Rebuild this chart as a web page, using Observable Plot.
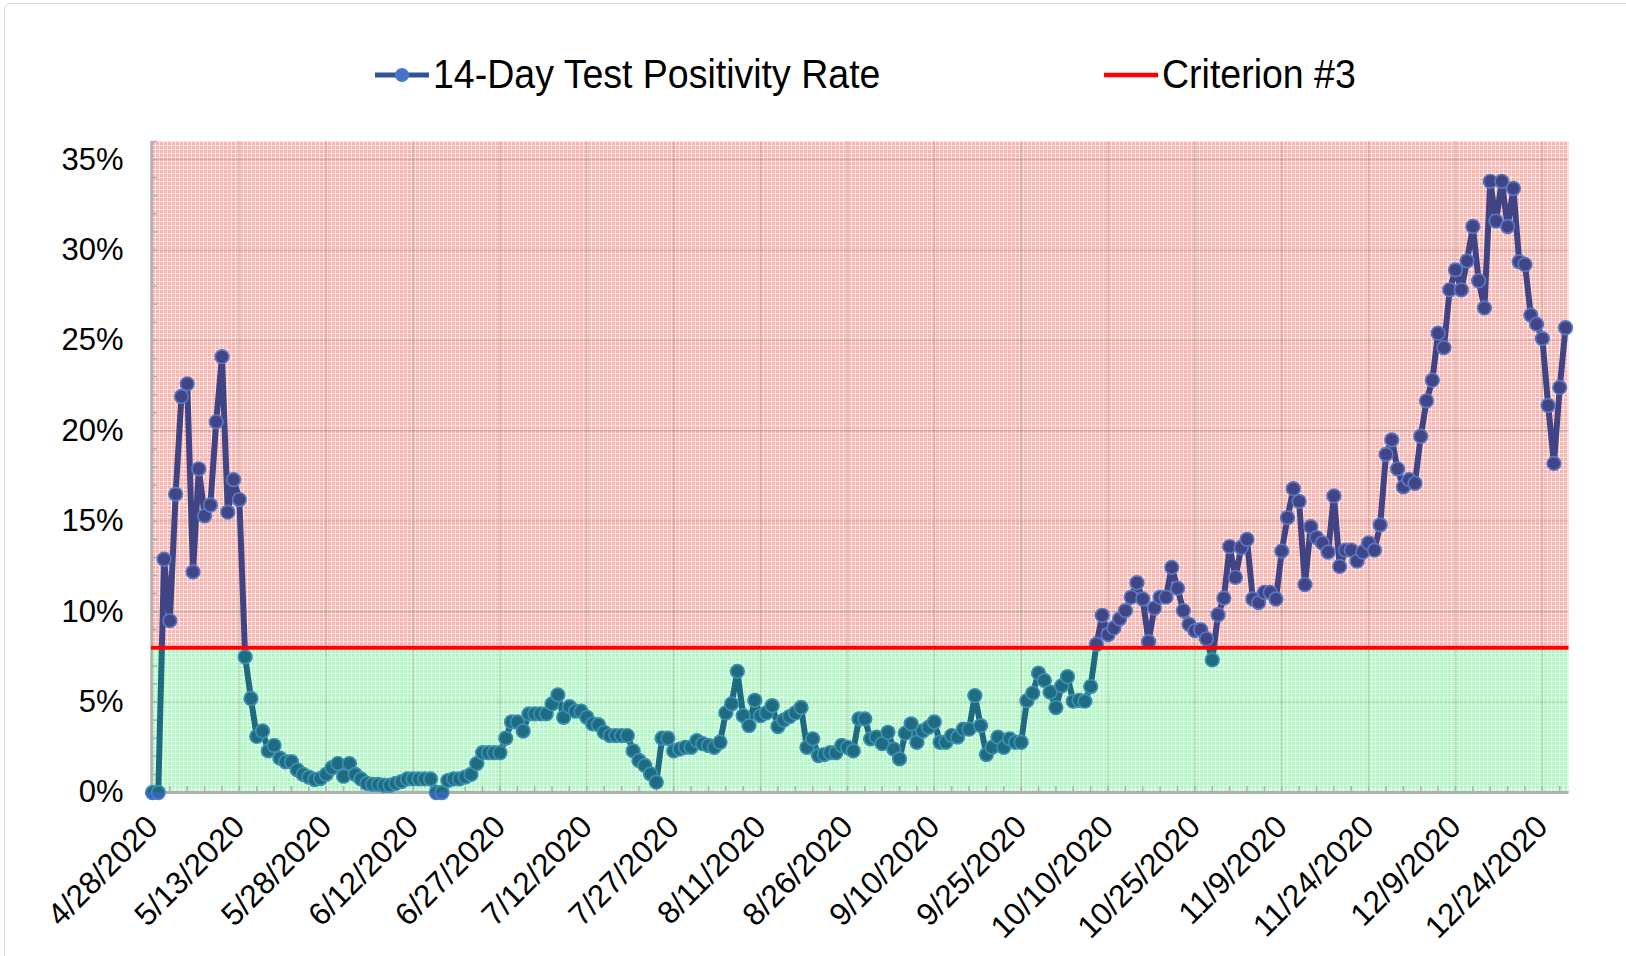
<!DOCTYPE html>
<html><head><meta charset="utf-8">
<script src="https://cdn.jsdelivr.net/npm/d3@7"></script>
<script src="https://cdn.jsdelivr.net/npm/@observablehq/plot@0.6"></script>
<style>
html,body{margin:0;padding:0;background:#fff;}
#chart{position:relative;width:1626px;height:956px;overflow:hidden;font-family:"Liberation Sans",Arial,sans-serif;background:#fff;}
#border{position:absolute;left:4px;top:3px;width:1700px;height:1100px;border:1.5px solid #d9d9d9;border-radius:6px;box-sizing:border-box;pointer-events:none;}
#legend{position:relative;height:110px;}
.lg-text{position:absolute;top:56px;font-size:37.5px;line-height:37px;color:#000;white-space:nowrap;transform:scaleY(1.07);transform-origin:50% 60%;}
.lg-sym{position:absolute;}
#plot svg{display:block;}
</style>
</head><body>
<svg width="0" height="0" style="position:absolute">
  <defs>
    <pattern id="redPat" width="4" height="4" patternUnits="userSpaceOnUse">
      <rect width="4" height="4" fill="#fde8e6"/>
      <rect width="3" height="3" fill="#f9b4b0"/>
    </pattern>
    <pattern id="greenPat" width="4" height="4" patternUnits="userSpaceOnUse">
      <rect width="4" height="4" fill="#e6fdec"/>
      <rect width="3" height="3" fill="#b0f7c6"/>
    </pattern>
  </defs>
</svg>
<div id="chart">
  <div id="legend"></div>
  <div id="plot"></div>
  <div id="border"></div>
</div>
<script>
// ---------------- data ----------------
const seriesName = "14-Day Test Positivity Rate";
const criterionName = "Criterion #3";
const startDate = "2020-04-28";
const rates = [
  0, 0, 12.9, 9.5, 16.5, 21.9, 22.6, 12.2, 17.9, 15.3,
  15.9, 20.5, 24.1, 15.5, 17.3, 16.2, 7.5, 5.2, 3.1, 3.4,
  2.3, 2.6, 1.9, 1.7, 1.7, 1.25, 1.0, 0.85, 0.72, 0.77,
  1.0, 1.37, 1.6, 0.9, 1.6, 1.0, 0.75, 0.5, 0.45, 0.45,
  0.4, 0.4, 0.5, 0.6, 0.75, 0.75, 0.75, 0.75, 0.75, 0,
  0, 0.66, 0.75, 0.75, 0.85, 1.0, 1.6, 2.2, 2.2, 2.2,
  2.2, 3.0, 3.9, 3.9, 3.4, 4.35, 4.35, 4.35, 4.35, 4.9,
  5.4, 4.16, 4.75, 4.5, 4.5, 4.16, 3.8, 3.75, 3.33, 3.15,
  3.15, 3.15, 3.15, 2.3, 1.77, 1.5, 1.03, 0.57, 3.0, 3.0,
  2.3, 2.4, 2.5, 2.5, 2.87, 2.7, 2.6, 2.5, 2.78, 4.4,
  4.9, 6.7, 4.25, 3.7, 5.1, 4.25, 4.4, 4.8, 3.65, 4.0,
  4.2, 4.4, 4.7, 2.5, 2.97, 2.04, 2.1, 2.2, 2.2, 2.6,
  2.5, 2.3, 4.07, 4.07, 2.97, 3.06, 2.7, 3.33, 2.4, 1.86,
  3.28, 3.8, 2.78, 3.4, 3.6, 3.9, 2.78, 2.78, 3.15, 3.06,
  3.5, 3.5, 5.36, 3.7, 2.1, 2.5, 3.06, 2.5, 2.97, 2.78,
  2.78, 5.08, 5.5, 6.6, 6.2, 5.55, 4.7, 5.9, 6.4, 5.05,
  5.1, 5.05, 5.86, 8.2, 9.8, 8.73, 9.1, 9.6, 10.06, 10.8,
  11.6, 10.7, 8.34, 10.2, 10.8, 10.8, 12.45, 11.3, 10.06, 9.3,
  8.95, 9.0, 8.5, 7.33, 9.83, 10.75, 13.6, 11.9, 13.55, 14.0,
  10.7, 10.5, 11.07, 11.07, 10.7, 13.35, 15.2, 16.8, 16.1, 11.5,
  14.7, 14.1, 13.8, 13.3, 16.4, 12.5, 13.4, 13.4, 12.8, 13.3,
  13.8, 13.4, 14.8, 18.7, 19.5, 17.9, 16.9, 17.3, 17.1, 19.7,
  21.66, 22.8, 25.4, 24.6, 27.8, 28.9, 27.8, 29.4, 31.3, 28.3,
  26.8, 33.8, 31.6, 33.8, 31.3, 33.4, 29.35, 29.2, 26.4, 25.9,
  25.1, 21.4, 18.2, 22.4, 25.7
];
const criterion = 8;
const yMax = 36;
const yTicks = [0, 5, 10, 15, 20, 25, 30, 35];
const xTickLabels = ["4/28/2020","5/13/2020","5/28/2020","6/12/2020","6/27/2020","7/12/2020",
  "7/27/2020","8/11/2020","8/26/2020","9/10/2020","9/25/2020","10/10/2020","10/25/2020",
  "11/9/2020","11/24/2020","12/9/2020","12/24/2020"];

// ---------------- build ----------------
const DAY = 864e5;
const start = d3.utcParse("%Y-%m-%d")(startDate);
const data = rates.map((v, i) => ({date: d3.utcDay.offset(start, i), value: v}));
const parseLabel = d3.utcParse("%m/%d/%Y");
const xTicks = xTickLabels.map(parseLabel);
const fmt = d => `${d.getUTCMonth() + 1}/${d.getUTCDate()}/${d.getUTCFullYear()}`;
const last = data[data.length - 1].date;
const xDomain = [new Date(+start - 0.17 * DAY), new Date(+last + 0.6 * DAY)];
const xMinor = d3.utcDay.range(start, new Date(+last + DAY), 3);
const yMinor = d3.range(0, yMax + 1, 1);
const zones = [
  {x1: xDomain[0], x2: xDomain[1], y1: criterion, y2: yMax, fill: "url(#redPat)"},
  {x1: xDomain[0], x2: xDomain[1], y1: 0, y2: criterion, fill: "url(#greenPat)"}
];

const lineColor = "#2f5597";
const axisGrey = "#b0b0b0";
const H = 846;

const chart = Plot.plot({
  width: 1626,
  height: H,
  marginLeft: 151,
  marginRight: 57.5,
  marginTop: 31,
  marginBottom: 164,
  style: {fontFamily: '"Liberation Sans", Arial, sans-serif', fontSize: "31px", color: "#000", background: "transparent", overflow: "visible"},
  x: {type: "utc", domain: xDomain},
  y: {domain: [0, yMax]},
  marks: [
    Plot.rect(zones, {x1: "x1", x2: "x2", y1: "y1", y2: "y2", fill: "fill"}),
    Plot.gridX(xTicks, {stroke: "#707070", strokeOpacity: 0.25, strokeWidth: 1.5}),
    Plot.gridY(yTicks, {stroke: "#707070", strokeOpacity: 0.25, strokeWidth: 1.5}),
    Plot.ruleX([xDomain[0]], {stroke: axisGrey, strokeWidth: 2.5}),
    Plot.ruleY([0], {stroke: axisGrey, strokeWidth: 3}),
    Plot.axisX({ticks: xMinor, tickSize: -6, tickFormat: () => "", label: null, stroke: axisGrey, strokeWidth: 1.5}),
    Plot.axisY({ticks: yMinor, tickSize: -6, tickFormat: () => "", label: null, stroke: axisGrey, strokeWidth: 1.5}),
    Plot.lineY(data, {x: "date", y: "value", stroke: "url(#lineGrad)", strokeWidth: 6, strokeLinejoin: "round"}),
    Plot.dot(data, {x: "date", y: "value", r: 6.8, fill: "url(#dotGrad)", stroke: "url(#dotStrokeGrad)", strokeWidth: 1.7}),
    Plot.ruleY([criterion], {stroke: "#ff0000", strokeWidth: 4}),
    Plot.axisY({ticks: yTicks, tickSize: 0, tickPadding: 28, tickFormat: d => d + "%", label: null, fontSize: 31}),
    Plot.axisX({ticks: xTicks, tickSize: 0, tickPadding: 29, tickRotate: -45, tickFormat: fmt, label: null, fontSize: 31.5})
  ]
});

// colour the series by the zone it crosses, using the plot's own y scale
const yS = chart.scale("y");
const t8 = yS.apply(criterion) / H;
const t0 = yS.apply(0) / H;
function addGrad(id, cRed, cGreen, cOut) {
  const g = d3.select(chart).insert("defs", ":first-child")
    .append("linearGradient").attr("id", id)
    .attr("gradientUnits", "userSpaceOnUse")
    .attr("x1", 0).attr("x2", 0).attr("y1", 0).attr("y2", H);
  [[0, cRed], [t8, cRed], [t8, cGreen], [t0, cGreen], [t0, cOut], [1, cOut]]
    .forEach(([o, c]) => g.append("stop").attr("offset", o).attr("stop-color", c));
}
addGrad("lineGrad", "#404484", "#206a80", "#2f5597");
addGrad("dotGrad", "#414585", "#1f6b82", "#3566b4");
addGrad("dotStrokeGrad", "#5577c4", "#3990b0", "#4a7cc8");
document.getElementById("plot").appendChild(chart);

// ---------------- legend ----------------
const legend = document.getElementById("legend");
legend.innerHTML = `
  <svg class="lg-sym" style="left:373px;top:64px" width="58" height="22">
    <line x1="2" y1="11" x2="56" y2="11" stroke="${lineColor}" stroke-width="5"/>
    <circle cx="29" cy="11" r="6.3" fill="#4472c4" stroke="#4a7cc8" stroke-width="1.5"/>
  </svg>
  <div class="lg-text" style="left:433px">${seriesName}</div>
  <svg class="lg-sym" style="left:1102px;top:64px" width="58" height="22">
    <line x1="2" y1="11" x2="56" y2="11" stroke="#ff0000" stroke-width="4.5"/>
  </svg>
  <div class="lg-text" style="left:1162px">${criterionName}</div>`;
</script>
</body></html>
